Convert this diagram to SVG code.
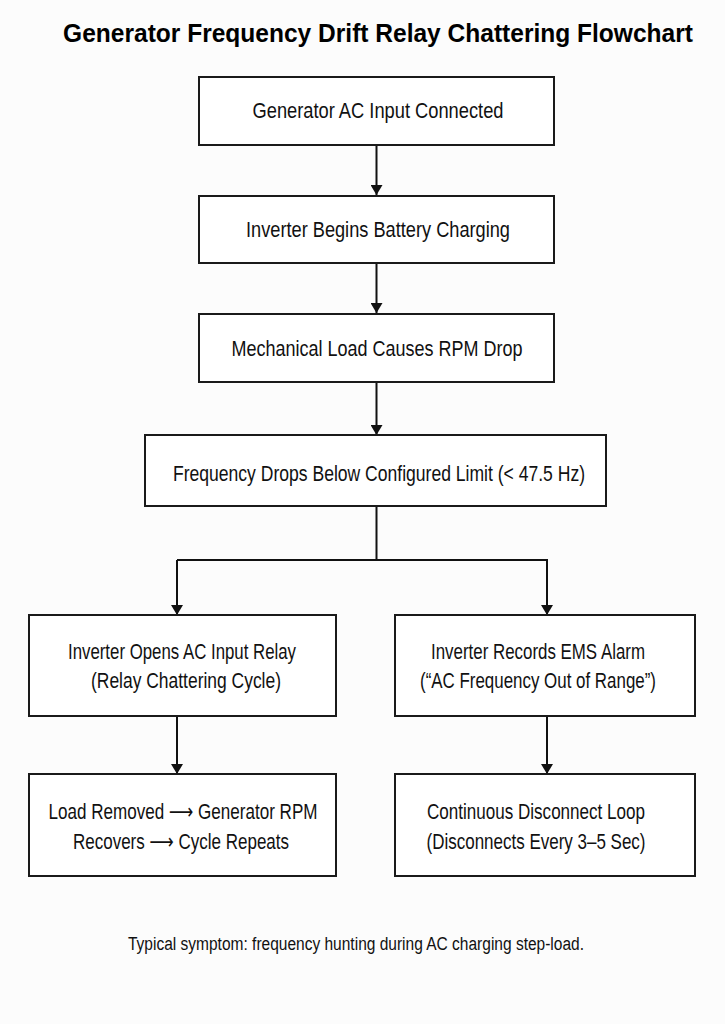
<svg xmlns="http://www.w3.org/2000/svg" width="725" height="1024" viewBox="0 0 725 1024">
<style>
.box{fill:#fff;stroke:#1a1a1a;stroke-width:2}
.t{font-family:"Liberation Sans","DejaVu Sans",Arial,sans-serif;font-size:22px;fill:#111;text-anchor:middle}
.title{font-family:"Liberation Sans",Arial,sans-serif;font-size:26px;font-weight:bold;fill:#000;text-anchor:middle}
.note{font-family:"Liberation Sans",Arial,sans-serif;font-size:18px;fill:#111;text-anchor:middle}
.c{fill:none;stroke:#111;stroke-width:2}
</style>
<defs>
<marker id="ah" viewBox="0 0 10 12" refX="10" refY="6" markerWidth="10" markerHeight="12" markerUnits="userSpaceOnUse" orient="auto">
<path d="M0,0 L10,6 L0,12 Z" fill="#111"/>
</marker>
</defs>
<rect width="725" height="1024" fill="#fcfcfc"/>
<g transform="translate(378,42) scale(0.82,1)">
<text class="title" x="0" y="0" textLength="768" lengthAdjust="spacingAndGlyphs">Generator Frequency Drift Relay Chattering Flowchart</text>
</g>

<g id="connectors">
<line class="c" x1="376.5" y1="145" x2="376.5" y2="195" marker-end="url(#ah)"/>
<line class="c" x1="376.5" y1="263" x2="376.5" y2="313" marker-end="url(#ah)"/>
<line class="c" x1="376.5" y1="382" x2="376.5" y2="435" marker-end="url(#ah)"/>
<polyline class="c" points="376.5,506 376.5,560"/>
<polyline class="c" points="177,560 547,560 547,615" marker-end="url(#ah)"/>
<line class="c" x1="177" y1="560" x2="177" y2="615" marker-end="url(#ah)"/>
<line class="c" x1="177" y1="715" x2="177" y2="774" marker-end="url(#ah)"/>
<line class="c" x1="547" y1="715" x2="547" y2="774" marker-end="url(#ah)"/>
</g>

<g id="n1">
<rect class="box" x="199" y="77" width="355" height="68"/>
<text class="t" x="378" y="118" textLength="251" lengthAdjust="spacingAndGlyphs">Generator AC Input Connected</text>
</g>
<g id="n2">
<rect class="box" x="199" y="196" width="355" height="67"/>
<text class="t" x="378" y="237" textLength="264" lengthAdjust="spacingAndGlyphs">Inverter Begins Battery Charging</text>
</g>
<g id="n3">
<rect class="box" x="199" y="314" width="355" height="68"/>
<text class="t" x="377" y="356" textLength="291" lengthAdjust="spacingAndGlyphs">Mechanical Load Causes RPM Drop</text>
</g>
<g id="n4">
<rect class="box" x="145" y="435" width="461" height="71"/>
<text class="t" x="379" y="481" textLength="412" lengthAdjust="spacingAndGlyphs">Frequency Drops Below Configured Limit (&lt; 47.5 Hz)</text>
</g>
<g id="n5">
<rect class="box" x="29" y="615" width="307" height="101"/>
<text class="t" x="182" y="659" textLength="228" lengthAdjust="spacingAndGlyphs">Inverter Opens AC Input Relay</text>
<text class="t" x="186" y="688" textLength="190" lengthAdjust="spacingAndGlyphs">(Relay Chattering Cycle)</text>
</g>
<g id="n6">
<rect class="box" x="395" y="615" width="300" height="101"/>
<text class="t" x="538" y="659" textLength="214" lengthAdjust="spacingAndGlyphs">Inverter Records EMS Alarm</text>
<text class="t" x="538" y="688" textLength="236" lengthAdjust="spacingAndGlyphs">(“AC Frequency Out of Range”)</text>
</g>
<g id="n7">
<rect class="box" x="29" y="774" width="307" height="102"/>
<text class="t" x="183" y="819" textLength="269" lengthAdjust="spacingAndGlyphs">Load Removed ⟶ Generator RPM</text>
<text class="t" x="181" y="849" textLength="216" lengthAdjust="spacingAndGlyphs">Recovers ⟶ Cycle Repeats</text>
</g>
<g id="n8">
<rect class="box" x="395" y="774" width="300" height="102"/>
<text class="t" x="536" y="819" textLength="218" lengthAdjust="spacingAndGlyphs">Continuous Disconnect Loop</text>
<text class="t" x="536" y="849" textLength="219" lengthAdjust="spacingAndGlyphs">(Disconnects Every 3–5 Sec)</text>
</g>

<text class="note" x="356" y="950" textLength="456" lengthAdjust="spacingAndGlyphs">Typical symptom: frequency hunting during AC charging step-load.</text>
</svg>
